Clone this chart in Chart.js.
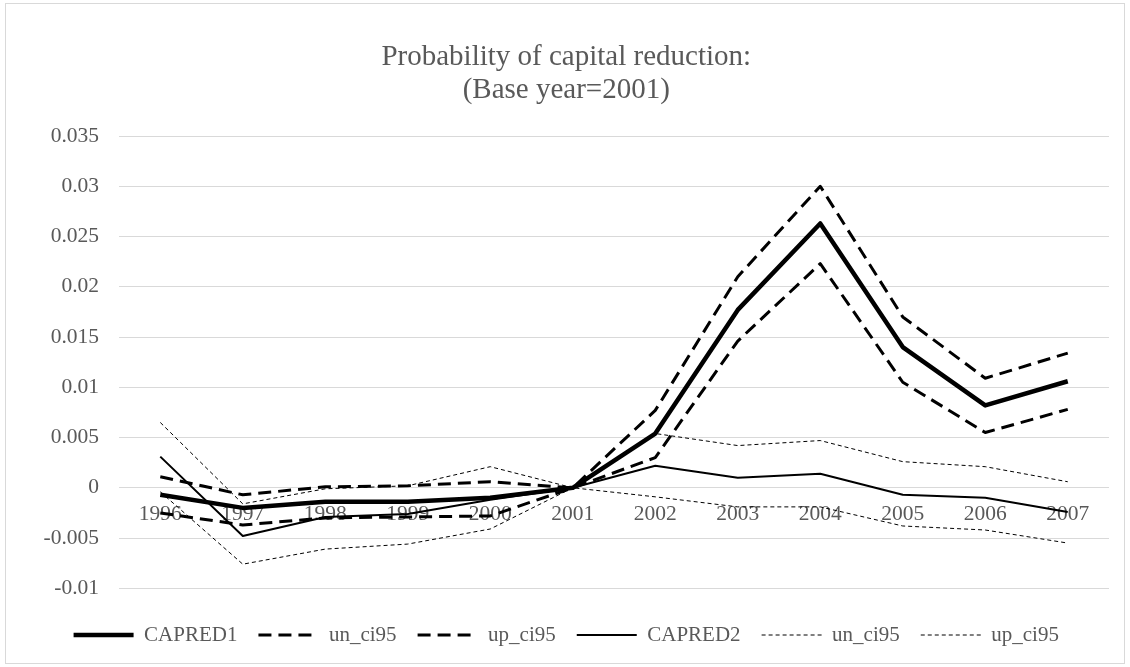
<!DOCTYPE html>
<html>
<head>
<meta charset="utf-8">
<script src="https://cdn.jsdelivr.net/npm/chart.js@4/dist/chart.umd.min.js"></script>
<style>
  html, body { margin: 0; padding: 0; background: #ffffff; }
  #wrap { width: 1130px; height: 667px; }
</style>
</head>
<body>
<div id="wrap"><canvas id="chart" width="1130" height="667"></canvas></div>
<script>
// Years on the category axis
const years = ['1996', '1997', '1998', '1999', '2000', '2001', '2002', '2003', '2004', '2005', '2006', '2007'];

// Specification 1: point estimate and 95% band
const capred1   = [-0.0007, -0.0020, -0.0014, -0.0014, -0.0010, 0, 0.0054, 0.0177, 0.0263, 0.0140, 0.0082, 0.0106];
const capred1Lo = [-0.0025, -0.0037, -0.0030, -0.0029, -0.0028, 0, 0.0030, 0.0146, 0.0223, 0.0105, 0.0055, 0.0078];
const capred1Hi = [ 0.0011, -0.0007,  0.0001,  0.0002,  0.0006, 0, 0.0077, 0.0210, 0.0300, 0.0170, 0.0109, 0.0134];

// Specification 2: point estimate and 95% band
const capred2   = [ 0.0031, -0.0048, -0.0029, -0.0026, -0.0012, 0,  0.0022,  0.0010,  0.0014, -0.0007, -0.0010, -0.0024];
const capred2Lo = [-0.0004, -0.0076, -0.0061, -0.0056, -0.0041, 0, -0.0009, -0.0019, -0.0019, -0.0038, -0.0042, -0.0055];
const capred2Hi = [ 0.0065, -0.0016, -0.0001,  0.0002,  0.0021, 0,  0.0054,  0.0042,  0.0047,  0.0026,  0.0021,  0.0006];

// Value-axis tick positions
const yTicks = [-0.01, -0.005, 0, 0.005, 0.01, 0.015, 0.02, 0.025, 0.03, 0.035];

const SERIF = "'Liberation Serif', 'Times New Roman', serif";
const TEXT = '#595959';
const GRID = '#d9d9d9';

// White background plus thin frame around the whole chart
const framePlugin = {
  id: 'frame',
  beforeDraw(chart) {
    const ctx = chart.ctx;
    ctx.save();
    ctx.fillStyle = '#ffffff';
    ctx.fillRect(0, 0, chart.width, chart.height);
    ctx.strokeStyle = GRID;
    ctx.lineWidth = 1;
    ctx.strokeRect(5.5, 3.5, chart.width - 11, chart.height - 7);
    ctx.restore();
  }
};

function line(label, data, width, dash) {
  return {
    label, data,
    borderColor: '#000000',
    backgroundColor: '#000000',
    borderWidth: width,
    borderDash: dash,
    borderJoinStyle: 'round',
    borderCapStyle: 'butt',
    pointRadius: 0,
    pointHoverRadius: 0,
    tension: 0,
    fill: false
  };
}

new Chart(document.getElementById('chart'), {
  type: 'line',
  data: {
    labels: years,
    datasets: [
      line('CAPRED1', capred1, 4.5, []),
      line('un_ci95', capred1Lo, 3, [13, 7]),
      line('up_ci95', capred1Hi, 3, [13, 7]),
      line('CAPRED2', capred2, 2, []),
      line('un_ci95', capred2Lo, 1, [4, 3]),
      line('up_ci95', capred2Hi, 1, [4, 3])
    ]
  },
  plugins: [framePlugin],
  options: {
    responsive: false,
    animation: false,
    events: [],
    layout: { padding: { top: 0, left: 23.5, right: 21, bottom: 11.5 } },
    plugins: {
      tooltip: { enabled: false },
      title: {
        display: true,
        text: ['Probability of capital reduction:', '(Base year=2001)'],
        color: TEXT,
        font: { family: SERIF, size: 29, weight: 'normal', lineHeight: 1.138 },
        padding: { top: 40.7, bottom: 29.3 }
      },
      legend: {
        position: 'bottom',
        align: 'center',
        title: { display: true, text: '', font: { size: 1 }, padding: { top: 14, bottom: 0 } },
        labels: {
          color: TEXT,
          font: { family: SERIF, size: 21 },
          usePointStyle: true,
          pointStyle: 'line',
          pointStyleWidth: 60,
          boxHeight: 21,
          padding: 21,
          // legend swatches use each series' own stroke width and dash pattern
          generateLabels(chart) {
            const items = Chart.defaults.plugins.legend.labels.generateLabels(chart);
            items.forEach(it => {
              const ds = chart.data.datasets[it.datasetIndex];
              it.lineDash = ds.borderDash;
              it.lineWidth = ds.borderWidth;
              it.strokeStyle = ds.borderColor;
              it.lineCap = 'butt';
            });
            return items;
          }
        }
      }
    },
    scales: {
      x: {
        type: 'category',
        position: { y: 0 },
        offset: true,
        grid: { display: false, drawTicks: false },
        border: { display: false },
        ticks: {
          color: TEXT,
          font: { family: SERIF, size: 21.5 },
          padding: 14,
          maxRotation: 0,
          autoSkip: false
        }
      },
      y: {
        min: -0.01,
        max: 0.035,
        afterBuildTicks(axis) {
          axis.ticks = yTicks.map(v => ({ value: v }));
        },
        grid: { color: GRID, lineWidth: 1, drawTicks: false },
        border: { display: false },
        ticks: {
          color: TEXT,
          font: { family: SERIF, size: 21.5 },
          padding: 20,
          callback: v => String(v)
        }
      }
    }
  }
});
</script>
</body>
</html>
